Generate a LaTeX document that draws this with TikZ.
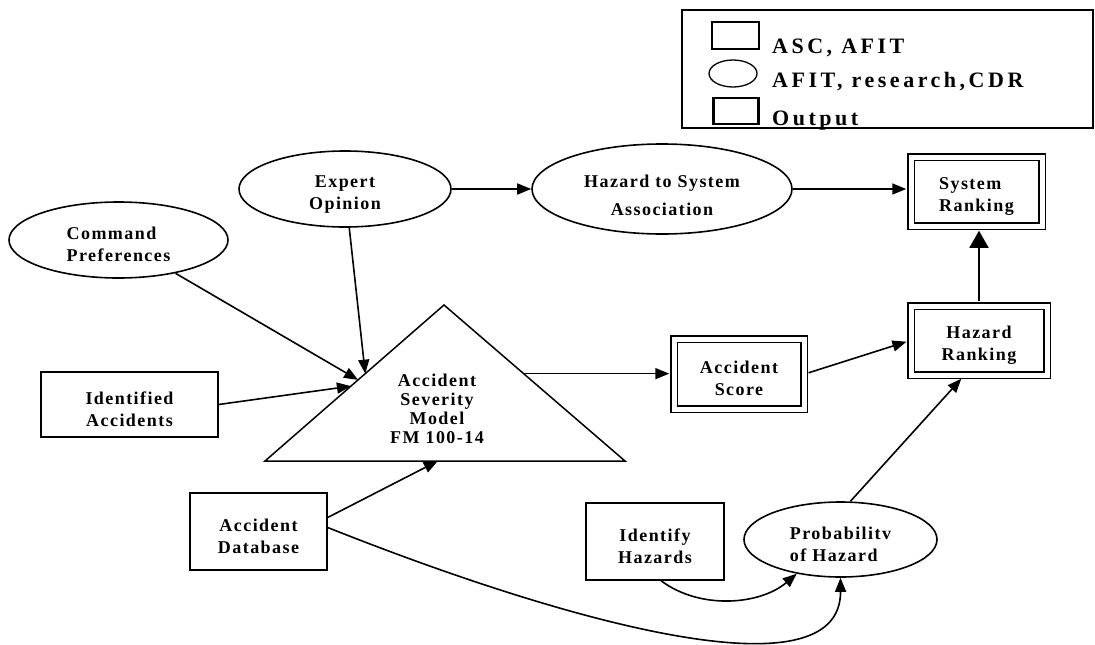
\documentclass[tikz,border=0pt]{standalone}
\usepackage{fontspec}
\setmainfont{Liberation Serif}
\newfontfamily\diagfont{Liberation Serif}[LetterSpace=8]
\newfontfamily\legfont{Liberation Serif}[LetterSpace=16]
\usepackage{tikz}
\usetikzlibrary{shapes,arrows.meta,calc}
\newcommand{\tup}{\rule{0pt}{22pt}}

\begin{document}
\begin{tikzpicture}[x=1pt, y=-1pt,
    box/.style={draw, rectangle, line width=1.4pt, inner sep=0pt, align=center, font=\diagfont\bfseries\fontsize{18}{22}\selectfont},
    oval/.style={draw, ellipse, line width=1.6pt, inner sep=0pt, align=center, font=\diagfont\bfseries\fontsize{18}{22}\selectfont},
    outbox/.style={draw, rectangle, double, double distance=5pt, line width=1.5pt, inner sep=0pt, align=center, font=\diagfont\bfseries\fontsize{18}{22}\selectfont},
    legtxt/.style={anchor=base west, inner sep=0pt, font=\legfont\bfseries\fontsize{22}{26}\selectfont},
    arr/.style={-{Triangle[length=14pt,width=11pt]}, line width=1.6pt},
    bigarr/.style={-{Triangle[length=17pt,width=19pt]}, line width=1.8pt}]
    \useasboundingbox (0,0) rectangle (1095,645);

    \node[draw, line width=1.6pt, minimum width=411pt, minimum height=118pt] (legend) at (887.5,69) {};
    \node[draw, line width=1.3pt, minimum width=47pt, minimum height=27pt] (keyBox) at (735.5,35.5) {};
    \node[draw, ellipse, line width=1.3pt, minimum width=48pt, minimum height=27pt] (keyOval) at (733,73.5) {};
    \node[draw, line width=2.8pt, minimum width=45pt, minimum height=26pt] (keyOut) at (736,111) {};
    \node[legtxt] (keyBoxTxt) at (772,53) {ASC, AFIT};
    \node[legtxt] (keyOvalTxt) at (772,87) {AFIT, research,CDR};
    \node[legtxt] (keyOutTxt) at (772,125) {Output};

    \node[oval, align=left, minimum width=219pt, minimum height=76pt] (cmd) at (118.5,240) {\tup Command\\Preferences};
    \node[oval, minimum width=212pt, minimum height=76pt] (expert) at (345,189) {\tup Expert\\Opinion};
    \node[oval, minimum width=260pt, minimum height=90pt] (hts) at (662,189) {\rule{0pt}{26pt}Hazard to System\\[6pt]Association};
    \node[oval, align=left, minimum width=193pt, minimum height=75pt] (prob) at (840.5,539.5) {\tup Probabilitv\\of Hazard};

    \node[box, minimum width=177pt, minimum height=65pt] (idacc) at (129.5,404.5) {\tup Identified\\Accidents};
    \node[box, minimum width=137pt, minimum height=77pt] (accdb) at (258.5,531.5) {\tup Accident\\Database};
    \node[box, minimum width=138pt, minimum height=77pt] (idhaz) at (655,541.5) {\tup Identify\\Hazards};

    \node[outbox, minimum width=130pt, minimum height=70pt] (accscore) at (739,374) {\tup Accident\\Score};
    \node[outbox, align=left, minimum width=131pt, minimum height=69pt] (sysrank) at (976.5,191.5) {\tup System\\Ranking};
    \node[outbox, minimum width=136pt, minimum height=69pt] (hazrank) at (979,340.5) {\tup Hazard\\Ranking};

    \coordinate (triL) at (265,461);
    \coordinate (triT) at (444,305);
    \coordinate (triR) at (625,461);
    \draw[line width=1.5pt] (triL) -- (triT) -- (triR) -- cycle;
    \node[inner sep=0pt, align=center, font=\diagfont\bfseries\fontsize{18}{19}\selectfont] (model) at (437,409) {Accident\\Severity\\Model\\FM 100-14};
    \coordinate (modelA) at ($(triL)!0.52!(triT)$);
    \coordinate (modelB) at ($(triL)!0.56!(triT)$);
    \coordinate (modelC) at ($(triL)!0.48!(triT)$);
    \coordinate (modelD) at ($(triL)!0.48!(triR)$);
    \coordinate (modelE) at ($(triR)!0.56!(triT)$);

    \draw[arr] (cmd) -- (modelA);
    \draw[arr] (expert) -- (modelB);
    \draw[arr] (idacc.east) -- (modelC);
    \draw[arr] ([yshift=14pt]accdb.east) -- (modelD);
    \draw[arr] ([yshift=4pt]accdb.east) .. controls (560,620) and (841,700) .. (prob.south);
    \draw[arr] ([xshift=6pt]idhaz.south) .. controls (700,610) and (760,605) .. (prob.218);
    \draw[arr] (expert.east) -- (hts.west);
    \draw[arr, shorten >=4pt] (hts.east) -- (hts.east -| sysrank.west);
    \draw[arr, shorten >=4pt] (modelE) -- (modelE -| accscore.west);
    \draw[arr, shorten >=4pt, shorten <=4pt] (accscore.east) -- (hazrank.west);
    \draw[arr, shorten >=4pt] ([xshift=10pt]prob.north) -- ([xshift=-15pt]hazrank.south);
    \draw[bigarr, shorten >=4pt, shorten <=4pt] (hazrank.north) -- (hazrank.north |- sysrank.south);
\end{tikzpicture}
\end{document}
